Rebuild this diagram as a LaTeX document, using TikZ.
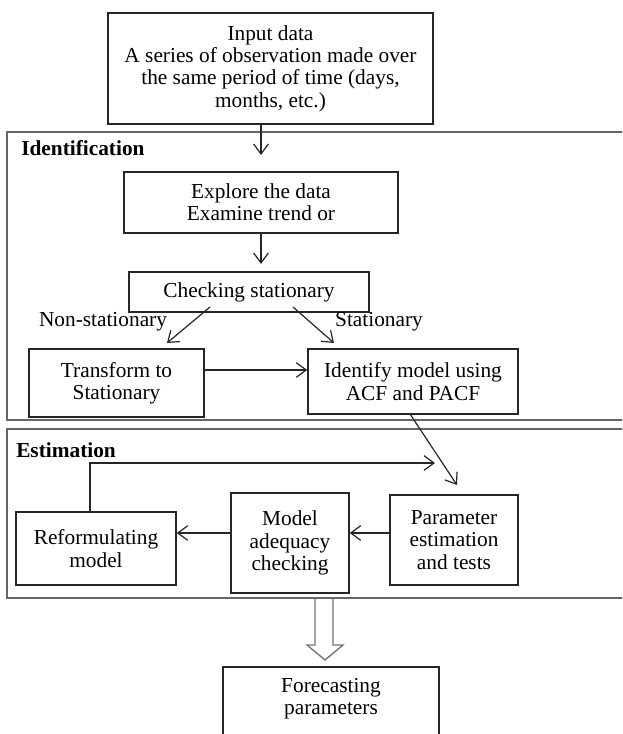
\documentclass[tikz,border=0pt]{standalone}
\usepackage{fontspec}
\setmainfont{Liberation Serif}
\usetikzlibrary{arrows.meta}
\begin{document}
\begin{tikzpicture}[x=0.75pt,y=-0.75pt,
  txt/.style={font=\fontsize{16}{16.7}\selectfont},
  box/.style={draw=black!85,line width=1.1pt,align=center,inner sep=0pt,txt},
  frame/.style={draw=black!60,line width=1.4pt},
  conn/.style={draw=black!85,line width=0.9pt,-{Straight Barb[length=7.5pt,width=11pt]}},
  lbl/.style={txt,inner sep=0pt},
  title/.style={font=\bfseries\fontsize{16}{16.7}\selectfont,inner sep=0pt,anchor=west}]
\useasboundingbox (0,0) rectangle (622,734);
\begin{scope}
\clip (0,0) rectangle (622,734);
% frames
\draw[frame] (7,132) rectangle (640,420);
\draw[frame] (7,429) rectangle (640,598);
\node[title] (tid) at (21,148) {Identification};
\node[title] (test) at (16,450) {Estimation};
% boxes
\node[box,minimum width=0.75*325pt,minimum height=0.75*111pt] (input) at (270.5,68.5)
  {Input data\\A series of observation made over\\the same period of time (days,\\months, etc.)};
\node[box,minimum width=0.75*274pt,minimum height=0.75*61pt] (explore) at (261,202.5)
  {Explore the data\\Examine trend or};
\node[box,minimum width=0.75*240pt,minimum height=0.75*40pt] (check) at (249,292)
  {Checking stationary};
\node[box,minimum width=0.75*175pt,minimum height=0.75*68pt] (trans) at (116.5,383)
  {Transform to\\Stationary};
\node[box,minimum width=0.75*210pt,minimum height=0.75*65pt] (ident) at (413,381.5)
  {Identify model using\\ACF and PACF};
\node[box,minimum width=0.75*128pt,minimum height=0.75*90pt] (param) at (454,540)
  {Parameter\\estimation\\and tests};
\node[box,minimum width=0.75*118pt,minimum height=0.75*100pt] (model) at (290,543)
  {Model\\adequacy\\checking};
\node[box,minimum width=0.75*160pt,minimum height=0.75*73pt] (reform) at (96,548.5)
  {Reformulating\\model};
\node[box,minimum width=0.75*216pt,minimum height=0.75*73pt] (fore) at (331,703.5) {};
\node[lbl,align=center] (foretext) at (331,698.5) {Forecasting\\parameters};
\node[lbl] (ns) at (103,322) {Non-stationary};
\node[lbl] (st) at (379,322) {Stationary};
% coordinates
\coordinate (a1) at (261,155);
\coordinate (a2) at (261,264);
\coordinate (n1) at (210,307);
\coordinate (n2) at (167,343);
\coordinate (s1) at (293,307);
\coordinate (s2) at (334,343);
\coordinate (i1) at (410,414);
\coordinate (p1) at (457,485);
\coordinate (r1) at (90,512);
\coordinate (l1) at (90,463);
\coordinate (l2) at (435,463);
\coordinate (ty) at (0,370);
\coordinate (my) at (0,533);
% connectors
\draw[conn] (input.south -| a1) -- (a1);
\draw[conn] (explore.south -| a2) -- (a2);
\draw[conn] (n1) -- (n2);
\draw[conn] (s1) -- (s2);
\draw[conn] (trans.east |- ty) -- (ident.west |- ty);
\draw[conn] (i1) -- (p1);
\draw[conn] (param.west |- my) -- (model.east |- my);
\draw[conn] (model.west |- my) -- (reform.east |- my);
\draw[conn] (r1) -- (l1) -- (l2);
% hollow arrow
\draw[draw=black!55,line width=1pt,fill=white] (315,599) -- (315,645) -- (307,645) -- (325,660) -- (343,645) -- (333,645) -- (333,599);
\end{scope}
\end{tikzpicture}
\end{document}
